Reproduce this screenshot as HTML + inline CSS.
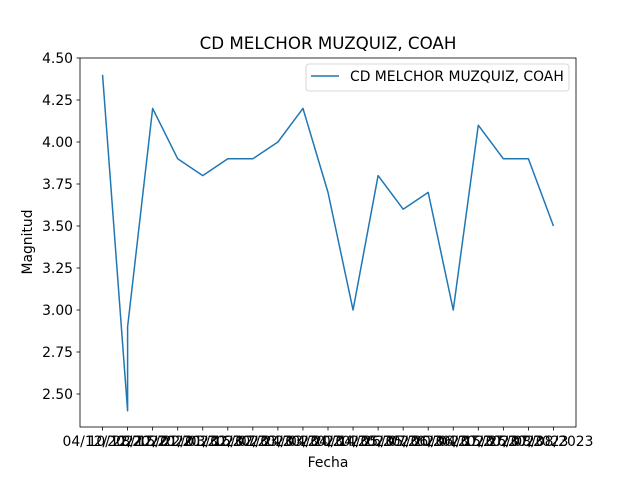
<!DOCTYPE html>
<html><head><meta charset="utf-8"><style>
body{margin:0;background:#fff}
svg{font-family:"DejaVu Sans","Liberation Sans",sans-serif}
</style></head><body>
<svg id="chart" width="640" height="480">
<rect width="640" height="480" fill="#fff"/>
<text x="328" y="49" font-size="16.7" text-anchor="middle">CD MELCHOR MUZQUIZ, COAH</text>
<g id="yticks"></g><g id="xticks"></g>
<path id="line" fill="none" stroke="#1f77b4" stroke-width="1.5" stroke-linejoin="round"/>
<rect x="80" y="58" width="496" height="369" fill="none" stroke="#000" stroke-width="0.8"/>
<text x="328" y="467" font-size="13.9" text-anchor="middle">Fecha</text>
<text transform="translate(32,242) rotate(-90)" font-size="13.9" text-anchor="middle">Magnitud</text>
<g>
<rect x="306" y="64" width="263" height="27" rx="3" fill="#fff" stroke="#ccc" stroke-width="0.8"/>
<line x1="311" y1="76" x2="339" y2="76" stroke="#1f77b4" stroke-width="1.5"/>
<text x="350" y="81" font-size="13.9">CD MELCHOR MUZQUIZ, COAH</text>
</g>
</svg>
<script>
const categories=["04/12/2022","10/12/2022","28/12/2022","15/01/2023","22/01/2023","03/02/2023","16/02/2023","07/03/2023","24/03/2023","04/04/2023","20/04/2023","14/05/2023","26/05/2023","07/06/2023","20/06/2023","04/07/2023","15/07/2023","26/07/2023","08/08/2023"];
const pointCats=[0,1,1,2,3,4,5,6,7,8,9,10,11,12,13,14,15,16,17,18];
const values=[4.4,2.4,2.9,4.2,3.9,3.8,3.9,3.9,4.0,4.2,3.7,3.0,3.8,3.6,3.7,3.0,4.1,3.9,3.9,3.5];
const yTicks=[2.5,2.75,3.0,3.25,3.5,3.75,4.0,4.25,4.5];
const NS="http://www.w3.org/2000/svg";
const n=categories.length;
const x=i=>80+496*(i+0.05*(n-1))/((n-1)*1.1);
const y=v=>58+369*(4.5-v)/(4.5-2.3036);
const yt=document.getElementById('yticks'),xt=document.getElementById('xticks');
function mk(tag,attrs,parent){const e=document.createElementNS(NS,tag);for(const k in attrs)e.setAttribute(k,attrs[k]);parent.appendChild(e);return e;}
yTicks.forEach(v=>{
 const l=mk('line',{x1:76.5,x2:80,y1:y(v),y2:y(v),stroke:'#000','stroke-width':0.8},yt);
 
 
 const t=mk('text',{x:73,y:y(v)+5,'font-size':13.9,'text-anchor':'end'},yt);
 t.textContent=v.toFixed(2);
 
 
});
categories.forEach((c,i)=>{
 const l=mk('line',{x1:x(i),x2:x(i),y1:427,y2:430.5,stroke:'#000','stroke-width':0.8},xt);
 
 
 const t=mk('text',{x:x(i),y:446,'font-size':13.9,'text-anchor':'middle'},xt);
 t.textContent=c;
 
 
});
document.getElementById('line').setAttribute('d',values.map((v,k)=>(k?'L':'M')+x(pointCats[k]).toFixed(2)+','+y(v).toFixed(2)).join(''));
</script>
</body></html>
